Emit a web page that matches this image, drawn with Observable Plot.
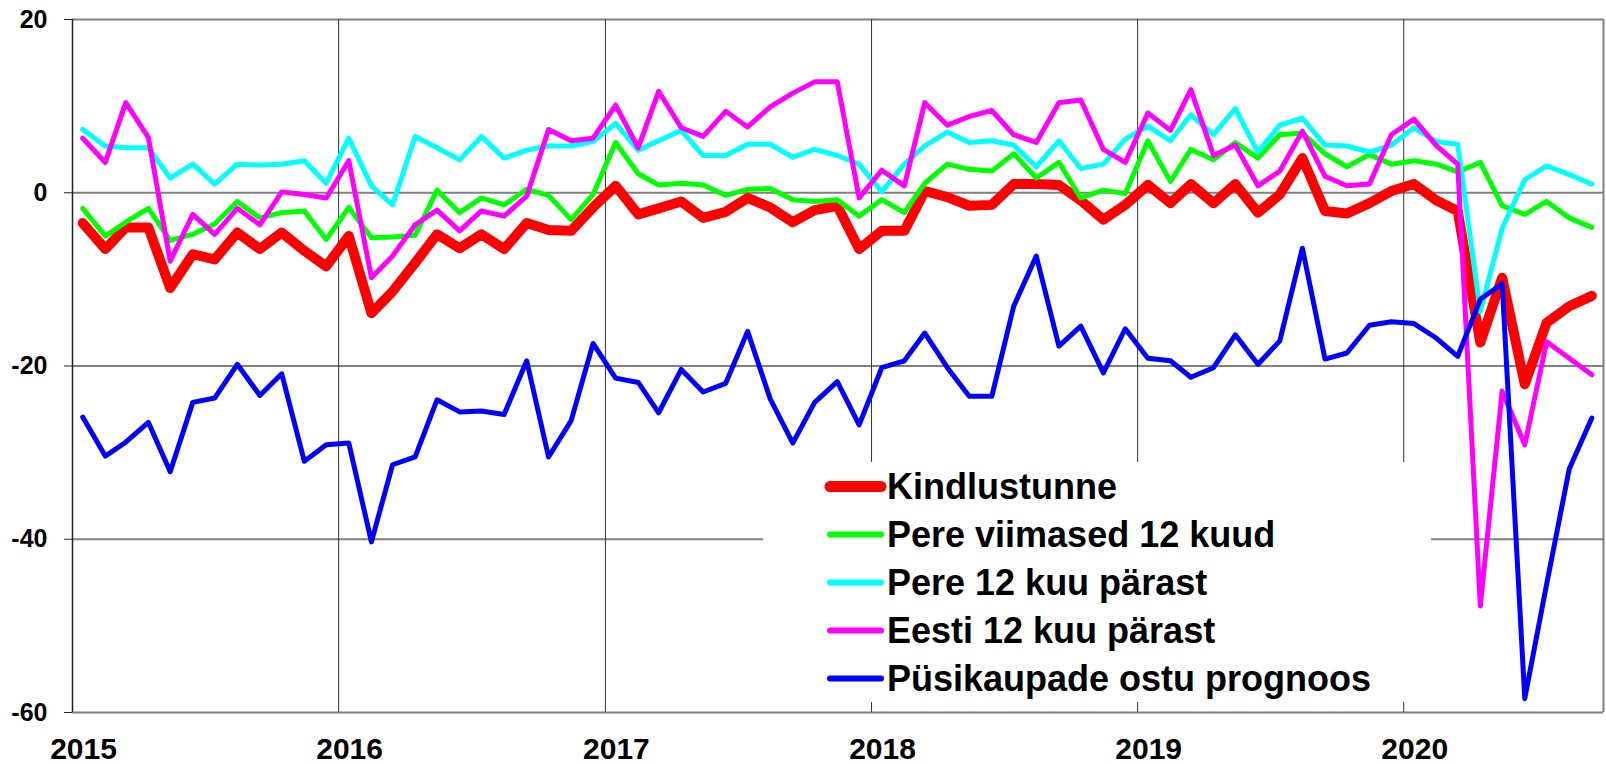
<!DOCTYPE html>
<html>
<head>
<meta charset="utf-8">
<script src="https://cdn.jsdelivr.net/npm/d3@7"></script>
<script src="https://cdn.jsdelivr.net/npm/@observablehq/plot@0.6"></script>
<style>
html, body { margin: 0; padding: 0; background: #fff; }
#wrap { position: relative; width: 1606px; height: 764px; font-family: "Liberation Sans", Arial, sans-serif; }
#legend { position: absolute; left: 763px; top: 462px; width: 668px; height: 240px; background: #fff; }
</style>
</head>
<body>
<div id="wrap"><div id="legend"></div></div>
<script>
// Monthly values, Jan 2015 – Sep 2020
const kindlustunne = [-3.5,-6.5,-4.0,-4.0,-11.0,-7.1,-7.7,-4.6,-6.5,-4.6,-6.7,-8.5,
  -5.0,-13.9,-11.4,-8.1,-4.8,-6.4,-4.8,-6.5,-3.5,-4.3,-4.4,-1.7,
  0.8,-2.5,-1.8,-1.0,-2.9,-2.2,-0.6,-1.7,-3.4,-2.0,-1.5,-6.5,
  -4.4,-4.4,0.2,-0.5,-1.5,-1.4,1.0,1.0,0.9,-0.9,-3.1,-1.4,
  0.9,-1.2,1.0,-1.2,1.0,-2.3,-0.2,4.0,-2.1,-2.4,-1.2,0.2,
  1.0,-0.9,-2.1,-17.3,-9.8,-22.1,-15.0,-13.1,-11.9];
const pereViimased = [-1.8,-5.0,-3.4,-1.8,-5.5,-4.8,-3.6,-1.0,-2.9,-2.3,-2.1,-5.4,
  -1.7,-5.2,-5.1,-4.9,0.3,-2.3,-0.6,-1.4,0.4,-0.3,-3.1,-0.2,
  5.8,2.2,0.9,1.1,0.9,-0.3,0.4,0.5,-0.8,-1.0,-0.8,-2.7,
  -0.8,-2.3,1.1,3.3,2.7,2.5,4.5,1.7,3.5,-0.6,0.3,-0.1,
  6.0,1.3,5.0,3.8,5.8,4.0,6.7,6.9,4.5,3.0,4.4,3.3,
  3.7,3.3,2.4,3.5,-1.5,-2.5,-1.0,-2.9,-4.0];
const pereParast = [7.3,5.4,5.2,5.2,1.7,3.3,1.0,3.3,3.2,3.3,3.7,1.1,
  6.3,0.8,-1.4,6.5,5.2,3.8,6.5,4.0,4.9,5.4,5.4,5.9,
  8.0,4.9,6.0,7.2,4.3,4.3,5.6,5.6,4.1,5.0,4.3,3.3,
  0.1,3.3,5.4,7.0,5.8,6.0,5.5,3.0,6.0,2.8,3.3,6.2,
  7.7,6.0,9.0,6.7,9.7,4.7,7.8,8.6,5.5,5.4,4.7,5.5,
  7.5,5.9,5.6,-13.7,-4.1,1.5,3.1,2.1,1.0];
const eestiParast = [6.3,3.5,10.4,6.4,-7.9,-2.5,-4.8,-1.8,-3.7,0.1,-0.2,-0.6,
  3.7,-9.8,-7.3,-3.7,-2.0,-4.4,-2.1,-2.7,-0.4,7.3,6.0,6.3,
  10.1,5.2,11.7,7.5,6.5,9.4,7.6,9.9,11.5,12.8,12.8,-0.6,
  2.6,0.8,10.4,7.8,8.8,9.5,6.7,5.8,10.4,10.7,5.0,3.5,
  9.2,7.2,11.9,4.3,5.5,0.8,2.5,7.1,1.9,0.8,1.0,6.7,
  8.5,5.4,3.3,-47.7,-22.9,-29.1,-17.2,-19.1,-21.0];
const pusikaubad = [-25.9,-30.4,-28.8,-26.5,-32.2,-24.2,-23.7,-19.8,-23.4,-20.9,-31.0,-29.1,
  -28.9,-40.3,-31.4,-30.5,-23.9,-25.3,-25.2,-25.6,-19.4,-30.5,-26.3,-17.4,
  -21.4,-21.9,-25.4,-20.4,-23.0,-22.0,-16.0,-23.8,-28.9,-24.2,-21.8,-26.8,
  -20.2,-19.4,-16.2,-20.2,-23.5,-23.5,-13.1,-7.3,-17.7,-15.4,-20.8,-15.7,
  -19.1,-19.4,-21.3,-20.2,-16.4,-19.8,-17.1,-6.4,-19.2,-18.5,-15.3,-14.9,
  -15.1,-16.8,-18.9,-12.3,-10.5,-58.4,-45.2,-31.9,-26.0];

const seriesNames = ["Kindlustunne", "Pere viimased 12 kuud", "Pere 12 kuu pärast", "Eesti 12 kuu pärast", "Püsikaupade ostu prognoos"];
const seriesValues = [kindlustunne, pereViimased, pereParast, eestiParast, pusikaubad];
const seriesColors = ["#ff0000", "#00ff00", "#00ffff", "#ff00ff", "#0000ff"];
const seriesWidths = [10, 5, 5, 5, 5];
const yTicks = [20, 0, -20, -40, -60];
const yearTicks = [2015, 2016, 2017, 2018, 2019, 2020];

const dates = kindlustunne.map((_, i) => new Date(Date.UTC(2015, i, 15)));
const xStart = new Date(Date.UTC(2015, 0, 1));
const xEnd = new Date(Date.UTC(2020, 9, 1));
const yearDates = yearTicks.map(y => new Date(Date.UTC(y, 0, 1)));

const lineMarks = seriesValues.map((vals, k) =>
  Plot.line(vals.map((v, i) => ({date: dates[i], value: v})), {
    x: "date", y: "value",
    stroke: seriesColors[k], strokeWidth: seriesWidths[k],
    strokeLinejoin: "round", strokeLinecap: "round"
  })
);

const chart = Plot.plot({
  width: 1606,
  height: 764,
  marginTop: 19,
  marginBottom: 52,
  marginLeft: 72,
  marginRight: 3,
  style: {fontFamily: "'Liberation Sans', Arial, sans-serif", fontWeight: "bold", color: "#000", background: "#fff"},
  x: {type: "utc", domain: [xStart, xEnd], axis: null},
  y: {domain: [-60, 20], axis: null},
  marks: [
    Plot.ruleY(yTicks, {stroke: "#808080", strokeWidth: 2}),
    Plot.ruleX(yearDates.slice(1), {stroke: "#333", strokeWidth: 1}),
    Plot.ruleX([xEnd], {stroke: "#808080", strokeWidth: 2}),
    Plot.ruleX([xStart], {stroke: "#222", strokeWidth: 1.5}),
    Plot.axisY({ticks: yTicks, tickSize: 8, tickPadding: 17, fontSize: 25, fontWeight: "bold", tickFormat: d => String(d), label: null, stroke: "#222"}),
    Plot.text(yearDates, {x: d => d, frameAnchor: "bottom", dy: 37, dx: 11, text: d => String(d.getUTCFullYear()), fontSize: 30, fontWeight: "bold", lineAnchor: "middle", fill: "#000"}),
    ...lineMarks
  ]
});
document.getElementById("wrap").insertBefore(chart, document.getElementById("legend"));

// Legend
const ns = "http://www.w3.org/2000/svg";
const lsvg = document.createElementNS(ns, "svg");
lsvg.setAttribute("width", 668);
lsvg.setAttribute("height", 240);
lsvg.style.display = "block";
seriesNames.forEach((name, k) => {
  const cy = 24.5 + 48 * k;
  const ln = document.createElementNS(ns, "line");
  ln.setAttribute("x1", 67); ln.setAttribute("x2", 118);
  ln.setAttribute("y1", cy); ln.setAttribute("y2", cy);
  ln.setAttribute("stroke", seriesColors[k]);
  ln.setAttribute("stroke-width", k === 0 ? 11 : 6);
  ln.setAttribute("stroke-linecap", "round");
  lsvg.appendChild(ln);
  const t = document.createElementNS(ns, "text");
  t.setAttribute("x", 124);
  t.setAttribute("y", cy + 12.9);
  t.setAttribute("font-family", "'Liberation Sans', Arial, sans-serif");
  t.setAttribute("font-weight", "bold");
  t.setAttribute("font-size", 36);
  t.setAttribute("fill", "#000");
  t.textContent = name;
  lsvg.appendChild(t);
});
document.getElementById("legend").appendChild(lsvg);
</script>
</body>
</html>
